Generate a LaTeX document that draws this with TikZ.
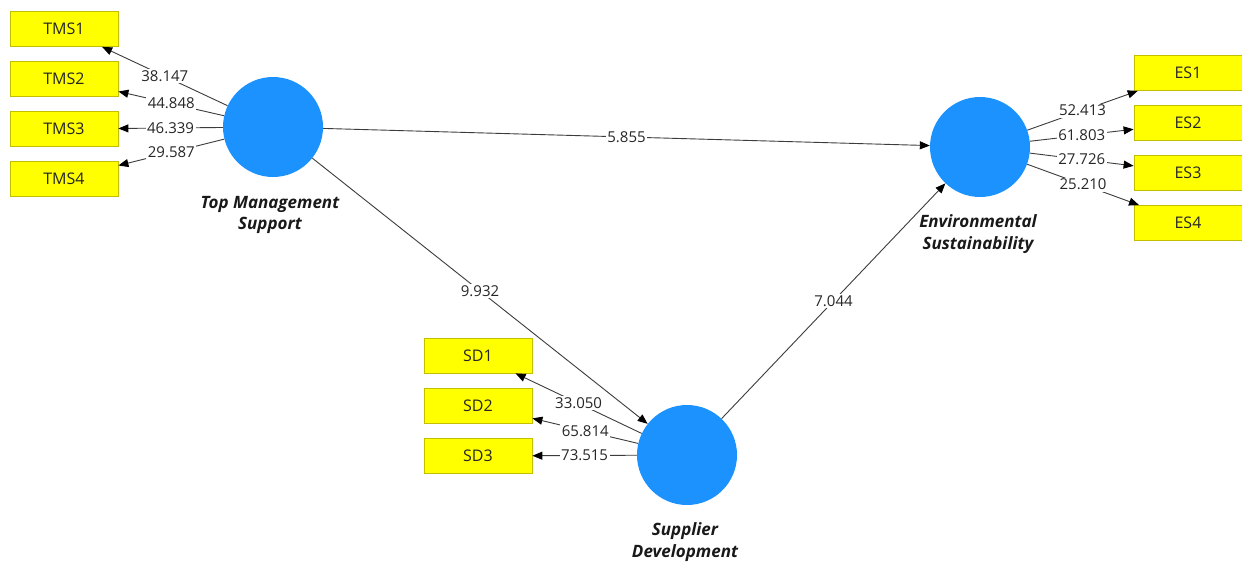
\documentclass[tikz,border=0pt]{standalone}
\usepackage{fontspec}
\setmainfont{Open Sans}
\usetikzlibrary{arrows.meta}
\definecolor{lvblue}{RGB}{28,146,255}
\definecolor{mvyellow}{RGB}{255,255,0}
\definecolor{mvedge}{RGB}{196,190,0}
\definecolor{pathgray}{RGB}{60,60,60}

\begin{document}
\begin{tikzpicture}[x=1pt,y=-1pt,
  latent/.style={circle, fill=lvblue, minimum size=100pt, inner sep=0pt},
  indicator/.style={rectangle, draw=mvedge, fill=mvyellow, line width=0.8pt,
    minimum width=108pt, minimum height=35pt, inner sep=0pt,
    font=\fontsize{16}{18}\selectfont, text=black!85},
  lvname/.style={font=\fontsize{17}{21.5}\selectfont\bfseries\itshape,
    align=center, text=black!90},
  link/.style={draw=pathgray, line width=0.9pt,
    -{Triangle[length=10pt,width=8pt,color=black]}},
  weight/.style={fill=white, inner sep=1.5pt, midway,
    font=\fontsize{15}{18}\selectfont, text=black!85}
]
% canvas
\fill[white] (0,0) rectangle (1242,562);
\useasboundingbox (0,0) rectangle (1242,562);

% latent variables
\node[latent] (tms) at (273,127) {};
\node[latent] (es)  at (980,147) {};
\node[latent] (sd)  at (687,455) {};
\node[lvname] (tmsname) at (270,215) {Top Management\\Support};
\node[lvname] (esname)  at (978,234) {Environmental\\Sustainability};
\node[lvname] (sdname)  at (685,542) {Supplier\\Development};

% indicators
\node[indicator] (tms1) at (64,29)  {TMS1};
\node[indicator] (tms2) at (64,79)  {TMS2};
\node[indicator] (tms3) at (64,129) {TMS3};
\node[indicator] (tms4) at (64,179) {TMS4};
\node[indicator] (es1) at (1188,73)    {ES1};
\node[indicator] (es2) at (1188,123)   {ES2};
\node[indicator] (es3) at (1188,172.5) {ES3};
\node[indicator] (es4) at (1188,223)   {ES4};
\node[indicator] (sd1) at (478,355.5) {SD1};
\node[indicator] (sd2) at (478,405.5) {SD2};
\node[indicator] (sd3) at (478,456)   {SD3};

% outer loadings
\draw[link] (tms) -- node[weight]{38.147} (tms1);
\draw[link] (tms) -- node[weight]{44.848} (tms2);
\draw[link] (tms) -- node[weight]{46.339} (tms3);
\draw[link] (tms) -- node[weight]{29.587} (tms4);
\draw[link] (es) -- node[weight]{52.413} (es1);
\draw[link] (es) -- node[weight]{61.803} (es2);
\draw[link] (es) -- node[weight]{27.726} (es3);
\draw[link] (es) -- node[weight]{25.210} (es4);
\draw[link] (sd) -- node[weight]{33.050} (sd1);
\draw[link] (sd) -- node[weight]{65.814} (sd2);
\draw[link] (sd) -- node[weight]{73.515} (sd3);

% structural paths
\draw[link] (tms) -- node[weight]{5.855} (es);
\draw[link] (tms) -- node[weight]{9.932} (sd);
\draw[link] (sd) -- node[weight]{7.044} (es);
\end{tikzpicture}
\end{document}
